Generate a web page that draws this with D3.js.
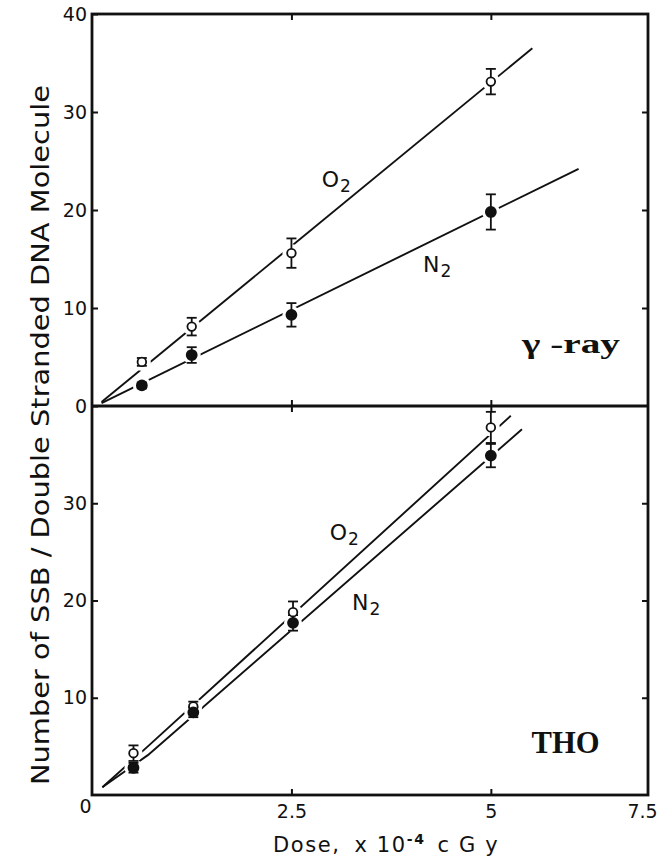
<!DOCTYPE html>
<html><head><meta charset="utf-8">
<script src="https://cdn.jsdelivr.net/npm/d3@7"></script>
<style>body{margin:0;background:#fff;} svg{display:block}</style>
</head><body>
<script>
// ---- data ----
const gammaDoses = [0.625, 1.25, 2.5, 5];
const thoDoses = [0.52, 1.27, 2.52, 5];
const gammaO2 = [4.5, 8.1, 15.6, 33.1];
const gammaO2Err = [0.4, 0.9, 1.5, 1.3];
const gammaN2 = [2.1, 5.2, 9.3, 19.8];
const gammaN2Err = [0.3, 0.8, 1.2, 1.8];
const thoO2 = [4.3, 9.1, 18.8, 37.8];
const thoO2Err = [0.8, 0.5, 1.1, 1.6];
const thoN2 = [2.8, 8.5, 17.7, 34.9];
const thoN2Err = [0.5, 0.5, 0.8, 1.2];
const gammaO2Fit = [[0.12, 0.4], [5.52, 36.5]];
const gammaN2Fit = [[0.12, 0.3], [6.1, 24.2]];
const thoO2Fit = [[0.13, 0.8], [0.7, 5.0], [5.25, 39.0]];
const thoN2Fit = [[0.13, 0.8], [0.7, 4.1], [5.39, 37.6]];
const xTickValues = [0, 2.5, 5, 6.97];
const xTickLabels = ["0", "2.5", "5", "7.5"];
const yTicksTop = [0, 10, 20, 30, 40];
const yTicksBottom = [10, 20, 30];

// ---- layout ----
const W = 660, H = 865;
const L = 92, R = 648, T = 14, M = 406, B = 795;
const svg = d3.select("body").append("svg").attr("width", W).attr("height", H);

const x = d3.scaleLinear().domain([0, 6.97]).range([L, R]);
const yTop = d3.scaleLinear().domain([0, 40]).range([M, T]);
const yBot = d3.scaleLinear().domain([0, 40]).range([B, M]);

const tickFont = "'DejaVu Sans', sans-serif";
const ink = "#111";

function yAxis(scale, vals) {
  const g = svg.append("g").attr("transform", `translate(${L},0)`)
    .call(d3.axisLeft(scale).tickValues(vals).tickSize(-6).tickPadding(5).tickFormat(d3.format("d")));
  g.select(".domain").remove();
  g.selectAll("line").attr("stroke", ink).attr("stroke-width", 2);
  g.selectAll("text").attr("font-family", tickFont).attr("font-size", 19).attr("fill", ink);
  const g2 = svg.append("g").attr("transform", `translate(${R},0)`)
    .call(d3.axisRight(scale).tickValues(vals.filter(v => v > 0 && v < 40)).tickSize(-6).tickFormat(""));
  g2.select(".domain").remove();
  g2.selectAll("line").attr("stroke", ink).attr("stroke-width", 2);
}
yAxis(yTop, yTicksTop);
yAxis(yBot, yTicksBottom);

const gx = svg.append("g").attr("transform", `translate(0,${B})`)
  .call(d3.axisBottom(x).tickValues(xTickValues).tickSize(-6).tickPadding(10)
    .tickFormat((d, i) => xTickLabels[i]));
gx.select(".domain").remove();
gx.selectAll("line").attr("stroke", ink).attr("stroke-width", 2)
  .attr("opacity", d => (d > 0 && d < 6) ? 1 : 0);
gx.selectAll("text").attr("font-family", tickFont).attr("font-size", 19).attr("fill", ink);
gx.selectAll(".tick").filter(d => d === 0).select("text").attr("dx", -7).attr("y", 4);
gx.selectAll(".tick").filter(d => d > 6).select("text").attr("dx", -6);

const innerX = [2.5, 5];
const gt = svg.append("g").attr("transform", `translate(0,${T})`)
  .call(d3.axisTop(x).tickValues(innerX).tickSize(-6).tickFormat(""));
gt.select(".domain").remove();
gt.selectAll("line").attr("stroke", ink).attr("stroke-width", 2);
[6, -6].forEach(s => {
  const gm = svg.append("g").attr("transform", `translate(0,${M})`)
    .call(d3.axisBottom(x).tickValues(innerX).tickSize(s).tickFormat(""));
  gm.select(".domain").remove();
  gm.selectAll("line").attr("stroke", ink).attr("stroke-width", 2);
});

svg.append("rect").attr("x", L).attr("y", T).attr("width", R - L).attr("height", B - T)
  .attr("fill", "none").attr("stroke", ink).attr("stroke-width", 2.8);
svg.append("line").attr("x1", L).attr("x2", R).attr("y1", M).attr("y2", M)
  .attr("stroke", ink).attr("stroke-width", 2.8);

// ---- series ----
function panel(y, doses, series) {
  const line = d3.line().x(d => x(d[0])).y(d => y(d[1]));
  const g = svg.append("g");
  series.forEach(s => g.append("path").attr("d", line(s.fit))
    .attr("fill", "none").attr("stroke", ink).attr("stroke-width", 1.9));
  series.forEach(s => doses.forEach((d, i) => g.append("circle")
    .attr("cx", x(d)).attr("cy", y(s.vals[i])).attr("r", 9).attr("fill", "#fff")));
  series.forEach(s => doses.forEach((d, i) => {
    const cx = x(d), y1 = y(s.vals[i] + s.err[i]), y2 = y(s.vals[i] - s.err[i]);
    g.append("line").attr("x1", cx).attr("x2", cx).attr("y1", y1).attr("y2", y2)
      .attr("stroke", ink).attr("stroke-width", 1.8);
    [y1, y2].forEach(yy => g.append("line").attr("x1", cx - 5).attr("x2", cx + 5)
      .attr("y1", yy).attr("y2", yy).attr("stroke", ink).attr("stroke-width", 1.8));
  }));
  series.forEach(s => doses.forEach((d, i) => g.append("circle")
    .attr("cx", x(d)).attr("cy", y(s.vals[i])).attr("r", s.open ? 4.3 : 5)
    .attr("fill", s.open ? "#fff" : ink).attr("stroke", ink).attr("stroke-width", 1.8)));
}
panel(yTop, gammaDoses, [
  {vals: gammaO2, err: gammaO2Err, fit: gammaO2Fit, open: true},
  {vals: gammaN2, err: gammaN2Err, fit: gammaN2Fit, open: false}
]);
panel(yBot, thoDoses, [
  {vals: thoO2, err: thoO2Err, fit: thoO2Fit, open: true},
  {vals: thoN2, err: thoN2Err, fit: thoN2Fit, open: false}
]);

// ---- labels ----
function gasLabel(px, py, main) {
  const t = svg.append("text").attr("x", px).attr("y", py)
    .attr("font-family", tickFont).attr("font-size", 22).attr("fill", ink);
  t.append("tspan").text(main);
  t.append("tspan").attr("dy", 5).attr("dx", 1).attr("font-size", 17).text("2");
}
gasLabel(x(2.88), yTop(22.3), "O");
gasLabel(x(4.15), yTop(13.7), "N");
gasLabel(x(2.98), yBot(26.2), "O");
gasLabel(x(3.26), yBot(19.0), "N");

svg.append("text").attr("x", x(5.39)).attr("y", yTop(5.4))
  .attr("font-family", "'Liberation Serif', serif").attr("font-weight", "bold")
  .attr("font-size", 27).attr("fill", ink)
  .attr("textLength", 98).attr("lengthAdjust", "spacingAndGlyphs").text("γ -ray");
svg.append("text").attr("x", x(5.51)).attr("y", yBot(4.3))
  .attr("font-family", "'Liberation Serif', serif").attr("font-weight", "bold")
  .attr("font-size", 31).attr("fill", ink)
  .attr("textLength", 68).attr("lengthAdjust", "spacingAndGlyphs").text("THO");

svg.append("text").attr("transform", `translate(49,${(85 + 785) / 2}) rotate(-90)`)
  .attr("text-anchor", "middle").attr("font-family", tickFont).attr("font-size", 25)
  .attr("fill", ink).attr("textLength", 700).attr("lengthAdjust", "spacingAndGlyphs")
  .text("Number of SSB / Double Stranded DNA Molecule");

const xt = svg.append("text").attr("x", 273).attr("y", 852)
  .attr("font-family", tickFont).attr("font-size", 21).attr("fill", ink)
  .attr("letter-spacing", 1.6);
xt.append("tspan").text("Dose,");
xt.append("tspan").attr("dx", 14).text("x 10");
xt.append("tspan").attr("dy", -8).attr("font-size", 14).attr("font-weight", "bold").text("-4");
xt.append("tspan").attr("dy", 8).attr("dx", 12).text("c G y");
</script>
</body></html>
